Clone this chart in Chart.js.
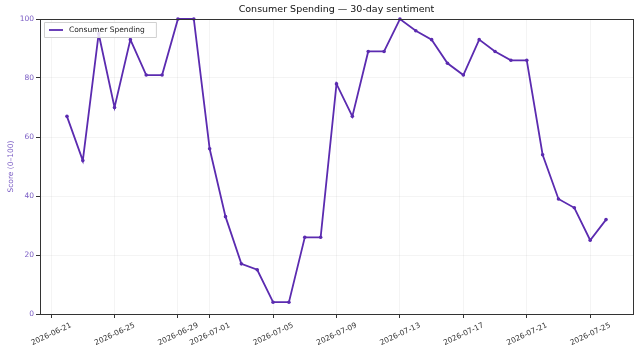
<!DOCTYPE html>
<html>
<head>
<meta charset="utf-8">
<script src="https://cdn.jsdelivr.net/npm/chart.js@4.4.1/dist/chart.umd.min.js"></script>
<style>
html,body{margin:0;padding:0;background:#fff;}
#wrap{width:640px;height:352px;position:relative;}
</style>
</head>
<body>
<div id="wrap"><canvas id="c" width="640" height="352"></canvas></div>
<script>
const dates = ['2026-06-22','2026-06-23','2026-06-24','2026-06-25','2026-06-26','2026-06-27','2026-06-28','2026-06-29','2026-06-30','2026-07-01','2026-07-02','2026-07-03','2026-07-04','2026-07-05','2026-07-06','2026-07-07','2026-07-08','2026-07-09','2026-07-10','2026-07-11','2026-07-12','2026-07-13','2026-07-14','2026-07-15','2026-07-16','2026-07-17','2026-07-18','2026-07-19','2026-07-20','2026-07-21','2026-07-22','2026-07-23','2026-07-24','2026-07-25','2026-07-26'];
const scores = [67,52,95,70,93,81,81,100,100,56,33,17,15,4,4,26,26,78,67,89,89,100,96,93,85,81,93,89,86,86,54,39,36,25,32];
const xTickLabels = ['2026-06-21','2026-06-25','2026-06-29','2026-07-01','2026-07-05','2026-07-09','2026-07-13','2026-07-17','2026-07-21','2026-07-25'];
const yTicks = [0,20,40,60,80,100];
const seriesName = 'Consumer Spending';
const titleText = 'Consumer Spending \u2014 30-day sentiment';
const yTitle = 'Score (0\u2013100)';

const DAY = 86400000;
const base = Date.parse(dates[0] + 'T00:00:00Z');
const toDay = s => (Date.parse(s + 'T00:00:00Z') - base) / DAY;
const span = toDay(dates[dates.length-1]) - toDay(dates[0]);
const margin = span * 0.05;

const lineColor = '#5b2bb0';
const tickPurple = '#7a5cc4';
const FONT = 'DejaVu Sans';

const frame = {
  id:'frame',
  afterDraw(chart){
    const {ctx, chartArea:a} = chart;
    ctx.save();
    ctx.strokeStyle = '#333';
    ctx.lineWidth = 1;
    ctx.strokeRect(Math.round(a.left)+0.5, Math.round(a.top)+0.5, Math.round(a.right-a.left), Math.round(a.bottom-a.top));
    // title
    ctx.fillStyle = '#111';
    ctx.font = '9.5px "' + FONT + '"';
    ctx.textAlign = 'center';
    ctx.textBaseline = 'middle';
    ctx.fillText(titleText, (a.left+a.right)/2, 10);
    // legend
    ctx.font = '7.5px "' + FONT + '"';
    const tw = ctx.measureText(seriesName).width;
    const bx = a.left + 4, by = a.top + 3, bh = 15, bw = tw + 36;
    ctx.fillStyle = 'rgba(255,255,255,0.85)';
    ctx.strokeStyle = '#d0d0d0';
    ctx.lineWidth = 1;
    ctx.beginPath();
    ctx.rect(bx+0.5, by+0.5, bw, bh);
    ctx.fill(); ctx.stroke();
    ctx.strokeStyle = lineColor;
    ctx.lineWidth = 1.8;
    ctx.beginPath();
    ctx.moveTo(bx+5, by+bh/2+0.5); ctx.lineTo(bx+19, by+bh/2+0.5); ctx.stroke();
    ctx.fillStyle = '#222';
    ctx.textAlign = 'left';
    ctx.fillText(seriesName, bx+25, by+bh/2+0.5);
    ctx.restore();
  }
};

new Chart(document.getElementById('c'), {
  type:'line',
  data:{
    datasets:[{
      label: seriesName,
      data: dates.map((d,i)=>({x: toDay(d), y: scores[i]})),
      borderColor: lineColor,
      backgroundColor: lineColor,
      borderWidth: 1.8,
      pointRadius: 1.8,
      pointHoverRadius: 1.8,
      pointBorderWidth: 0,
      tension: 0,
      clip: 4
    }]
  },
  options:{
    responsive:false,
    animation:false,
    events:[],
    layout:{padding:{top:19, right:7, left:0, bottom:0}},
    plugins:{legend:{display:false}, title:{display:false}, tooltip:{enabled:false}},
    scales:{
      x:{
        type:'linear',
        min: toDay(dates[0]) - margin,
        max: toDay(dates[dates.length-1]) + margin,
        afterBuildTicks(s){ s.ticks = xTickLabels.map(t=>({value: toDay(t)})); },
        afterFit(s){ s.height = 38; },
        ticks:{
          autoSkip:false,
          minRotation:25, maxRotation:25,
          padding:3,
          labelOffset:20,
          color:'#333',
          font:{family:FONT, size:7.5},
          callback(v){ const i = xTickLabels.findIndex(t=>Math.abs(toDay(t)-v)<1e-6); return i>=0 ? xTickLabels[i] : ''; }
        },
        grid:{color:'rgba(0,0,0,0.045)', tickColor:'#333', tickLength:4, drawTicks:true},
        border:{color:'#333'}
      },
      y:{
        min:0, max:100,
        afterBuildTicks(s){ s.ticks = yTicks.map(v=>({value:v})); },
        afterFit(s){ s.width = 40; },
        ticks:{color:tickPurple, font:{family:FONT, size:7.5}, padding:2},
        title:{display:true, text:yTitle, color:tickPurple, font:{family:FONT, size:7.5}, padding:{top:7,bottom:0}},
        grid:{color:'rgba(0,0,0,0.045)', tickColor:'#333', tickLength:4},
        border:{color:'#333'}
      }
    }
  },
  plugins:[frame]
});
</script>
</body>
</html>
